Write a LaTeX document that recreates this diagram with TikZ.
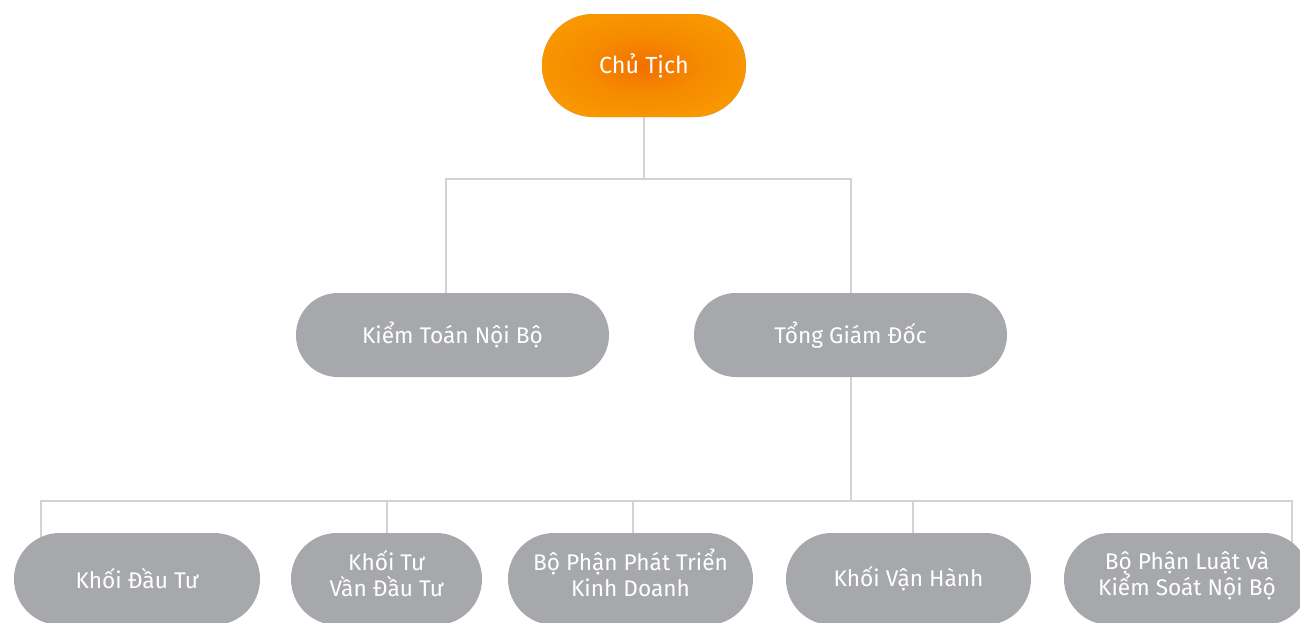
\documentclass[tikz,border=0pt]{standalone}
\usepackage{fontspec}
\setmainfont{Fira Sans}
\usetikzlibrary{backgrounds}
\definecolor{nodegray}{HTML}{A7A8AB}
\definecolor{linegray}{HTML}{D3D3D3}
\definecolor{orIn}{HTML}{F17000}
\definecolor{orMid}{HTML}{F68A00}
\definecolor{orOut}{HTML}{F99E00}
\pgfdeclareradialshading{orshade}{\pgfpoint{0bp}{0bp}}{color(0bp)=(orIn); color(14bp)=(orMid); color(34bp)=(orOut); color(50bp)=(orOut)}
\begin{document}
\begin{tikzpicture}[x=0.75pt,y=-0.75pt,
  pill/.style={rectangle, fill=nodegray, text=white, align=center,
    font=\fontsize{17}{20.5}\selectfont, inner sep=0pt},
  toppill/.style={pill, minimum width=153pt, minimum height=77.25pt,
    rounded corners=38.5pt, shading=orshade, font=\fontsize{17.5}{21}\selectfont},
  midpill/.style={pill, minimum width=234.75pt, minimum height=63pt, rounded corners=31.4pt},
  lowpill/.style={pill, minimum height=69pt, rounded corners=34.4pt},
  twoline/.style={text depth=9pt},
  conn/.style={draw=linegray, line width=1.5pt}]
\useasboundingbox (0,0) rectangle (1300,622);
\clip (0,0) rectangle (1300,622);

\node[toppill] (chu) at (644,65.5) {Chủ Tịch};
\node[midpill] (kt) at (452.5,335) {Kiểm Toán Nội Bộ};
\node[midpill] (tgd) at (850.5,335) {Tổng Giám Đốc};

\node[lowpill, minimum width=184.5pt] (b1) at (137,579) {Khối Đầu Tư};
\node[lowpill, twoline, minimum width=143.25pt] (b2) at (386.5,579) {Khối Tư\\[-1pt]Vần Đầu Tư};
\node[lowpill, twoline, minimum width=183.75pt] (b3) at (630.5,579) {Bộ Phận Phát Triển\\[-1pt]Kinh Doanh};
\node[lowpill, minimum width=183.75pt] (b4) at (908.5,579) {Khối Vận Hành};
\node[lowpill, twoline, minimum width=184.5pt] (b5) at (1187,579) {Bộ Phận Luật và\\[-1pt]Kiểm Soát Nội Bộ};

\coordinate (h1) at (0,179);
\coordinate (h2) at (0,501);
\begin{scope}[on background layer]
\draw[conn] (chu.south) -- (chu.south |- h1);
\draw[conn] ([xshift=-4.9pt]kt.north) |- (h1 -| tgd.north) -- (tgd.north);
\draw[conn] (tgd.south) -- (tgd.south |- h2);
\draw[conn] ([xshift=-72pt]b1.center) -- ([xshift=-72pt]b1.center |- h2) -| ([xshift=78.75pt]b5.center);
\draw[conn] (b2.center) -- (b2.center |- h2);
\draw[conn] ([xshift=2pt]b3.center) -- ([xshift=2pt]b3.center |- h2);
\draw[conn] ([xshift=3.5pt]b4.center) -- ([xshift=3.5pt]b4.center |- h2);
\end{scope}
\end{tikzpicture}
\end{document}
